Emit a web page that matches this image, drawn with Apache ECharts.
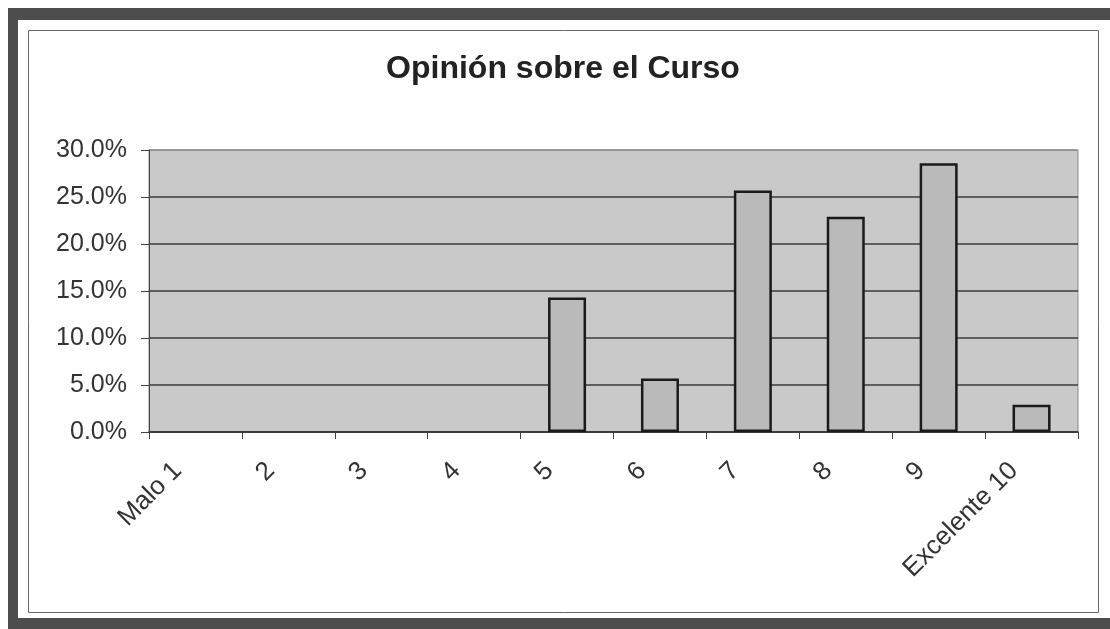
<!DOCTYPE html>
<html>
<head>
<meta charset="utf-8">
<title>Opinión sobre el Curso</title>
<script src="https://cdn.jsdelivr.net/npm/echarts@6/dist/echarts.min.js"></script>
<style>
  html, body { margin: 0; padding: 0; background: #fff; }
  #chart { width: 1110px; height: 629px; }
</style>
</head>
<body>
<div id="chart"></div>
<script>
// datos (porcentaje de respuestas)
const categorias = ['Malo 1', '2', '3', '4', '5', '6', '7', '8', '9', 'Excelente 10'];
const porcentajes = [0, 0, 0, 0, 14.3, 5.7, 25.7, 22.9, 28.6, 2.9];
const ticksY = [0, 5, 10, 15, 20, 25, 30];

const fuente = '"Liberation Sans", Arial, sans-serif';

let chart = echarts.init(document.getElementById('chart'));

// las barras en cero no se dibujan en el original (sin borde)
let datosBarras = porcentajes.map(v => v === 0 ? {value: v, itemStyle: {borderWidth: 0}} : v);

let option = {
  animation: false,
  backgroundColor: '#fff',
  title: {
    text: 'Opinión sobre el Curso',
    left: 563,
    textAlign: 'center',
    top: 53,
    padding: 0,
    textStyle: {
      fontFamily: fuente,
      fontSize: 32,
      fontWeight: 'bold',
      color: '#222'
    }
  },
  grid: {
    left: 149,
    top: 150,
    right: 32,
    bottom: 197,
    show: true,
    backgroundColor: '#c9c9c9',
    borderColor: '#8a8a8a',
    borderWidth: 1
  },
  xAxis: {
    type: 'category',
    data: categorias,
    axisLine: { lineStyle: { color: '#333', width: 1.5 } },
    axisTick: { show: true, length: 7, lineStyle: { color: '#444' } },
    axisLabel: {
      interval: 0,
      rotate: 45,
      margin: 17,
      padding: [0, 25, 0, 0],
      fontFamily: fuente,
      fontSize: 26,
      color: '#333'
    }
  },
  yAxis: {
    type: 'value',
    min: ticksY[0],
    max: ticksY[ticksY.length - 1],
    interval: 5,
    axisLine: { show: true, lineStyle: { color: '#444', width: 1 } },
    axisTick: { show: true, length: 8, lineStyle: { color: '#444' } },
    axisLabel: {
      margin: 22,
      fontFamily: fuente,
      fontSize: 25,
      color: '#333',
      formatter: v => v.toFixed(1) + '%'
    },
    splitLine: {
      lineStyle: {
        color: ['#3a3a3a', '#3a3a3a', '#3a3a3a', '#3a3a3a', '#3a3a3a', '#3a3a3a', '#8a8a8a'],
        width: 1.6
      }
    }
  },
  series: [
    {
      type: 'bar',
      data: datosBarras,
      barWidth: 38,
      itemStyle: {
        color: '#bababa',
        borderColor: '#1a1a1a',
        borderWidth: 2.5
      }
    }
  ],
  graphic: [
    // marco oscuro de la imagen escaneada
    { type: 'rect', shape: { x: 8, y: 8, width: 1102, height: 12 }, style: { fill: '#4d4d4d' }, silent: true },
    { type: 'rect', shape: { x: 8, y: 8, width: 10, height: 621 }, style: { fill: '#4d4d4d' }, silent: true },
    { type: 'rect', shape: { x: 8, y: 618, width: 1102, height: 11 }, style: { fill: '#4d4d4d' }, silent: true },
    // borde del area del grafico
    { type: 'rect', shape: { x: 28.5, y: 30.5, width: 1070, height: 582 }, style: { fill: 'none', stroke: '#666', lineWidth: 1 }, silent: true }
  ]
};

chart.setOption(option);
</script>
</body>
</html>
